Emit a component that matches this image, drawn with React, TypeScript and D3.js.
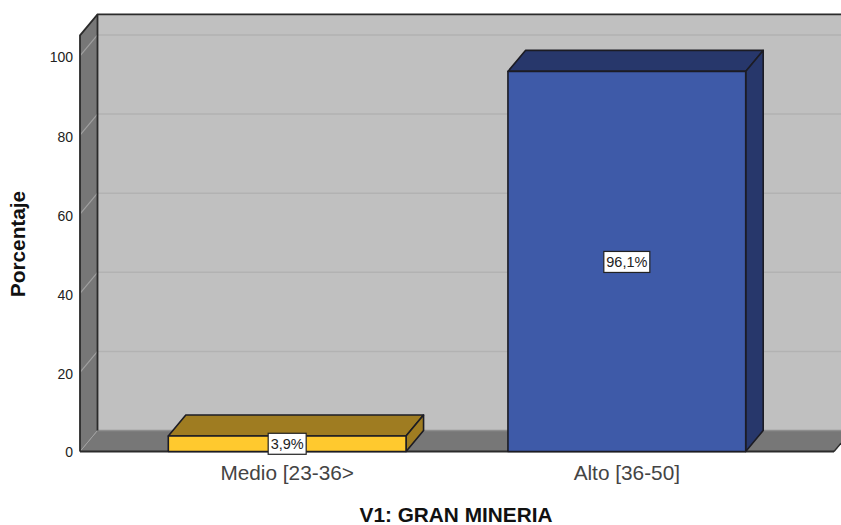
import React from "react";
import * as d3 from "d3";

const categories = ["Medio [23-36>", "Alto [36-50]"];
const values = [3.9, 96.1];
const valueLabels = ["3,9%", "96,1%"];
const frontColors = ["#ffc92e", "#3e5aa8"];
const topColors = ["#9f7c21", "#27376b"];
const sideColors = ["#9f7c21", "#27376b"];
const yTicks = [0, 20, 40, 60, 80, 100];
const yTitle = "Porcentaje";
const xTitle = "V1: GRAN MINERIA";

const W = 841, H = 525;
const DX = 17.5, DY = -21;
const y = d3.scaleLinear().domain([0, 105.2]).range([451.5, 35.4]);
const x = d3.scaleBand<string>().domain(categories).range([80, 834]).paddingInner(0.3).paddingOuter(0.26);
const font = "'Liberation Sans', Arial, sans-serif";
const EDGE = "#1c1c24";

const pts = (a: number[][]) => a.map(p => p.join(",")).join(" ");

export default function App() {
  const top = y.domain()[1];
  const yT = y(top), y0 = y(0);
  const xL = 80, xR = 834;
  return (
    <svg width={W} height={H} viewBox={`0 0 ${W} ${H}`} style={{ position: "absolute", left: 0, top: 0, background: "#fff" }}>
      <rect x={xL + DX} y={yT + DY} width={xR - xL + 40} height={y0 - yT} fill="#c0c0c0" />
      <polygon points={pts([[xL, y0], [xL + DX, y0 + DY], [xR + DX, y0 + DY], [xR, y0]])} fill="#777777" />
      <line x1={xL + DX} x2={W} y1={y0 + DY} y2={y0 + DY} stroke="#8e8e8e" strokeWidth={1.5} />
      <polygon points={pts([[xL, y0], [xL + DX, y0 + DY], [xL + DX, yT + DY], [xL, yT]])} fill="#777777" />
      {yTicks.filter(t => t > 0).map(t => (
        <g key={t}>
          <line x1={xL + DX} x2={W} y1={y(t) + DY} y2={y(t) + DY} stroke="#b2b2b2" strokeWidth={1.5} />
          <line x1={xL} x2={xL + DX} y1={y(t)} y2={y(t) + DY} stroke="#a0a0a0" strokeWidth={1.2} />
        </g>
      ))}
      <line x1={xL} x2={xL + DX} y1={y0} y2={y0 + DY} stroke="#a0a0a0" strokeWidth={1} />
      <polyline points={pts([[xL, y0], [xL, yT], [xL + DX, yT + DY], [W, yT + DY]])} fill="none" stroke="#2b2b2b" strokeWidth={1.8} />
      <line x1={xL + DX} x2={xL + DX} y1={yT + DY} y2={y0 + DY} stroke="#2b2b2b" strokeWidth={1.8} />
      <line x1={xL} x2={xR} y1={y0} y2={y0} stroke="#2b2b2b" strokeWidth={1.8} />
      <line x1={xR} x2={xR + 7} y1={y0} y2={y0 - 8.4} stroke="#2b2b2b" strokeWidth={1.4} />
      {categories.map((c, i) => {
        const bx = x(c)!, bw = x.bandwidth(), by = y(values[i]);
        return (
          <g key={c} stroke={EDGE} strokeWidth={1.6} strokeLinejoin="round">
            <polygon points={pts([[bx, by], [bx + DX, by + DY], [bx + bw + DX, by + DY], [bx + bw, by]])} fill={topColors[i]} />
            <polygon points={pts([[bx + bw, by], [bx + bw + DX, by + DY], [bx + bw + DX, y0 + DY], [bx + bw, y0]])} fill={sideColors[i]} />
            <rect x={bx} y={by} width={bw} height={y0 - by} fill={frontColors[i]} />
          </g>
        );
      })}
      {categories.map((c, i) => {
        const cx = x(c)! + x.bandwidth() / 2;
        const cy = y(values[i] / 2) + (i === 0 ? 0 : 0.5);
        const w = i === 0 ? 38 : 46;
        return (
          <g key={c}>
            <rect x={cx - w / 2} y={cy - 10.5} width={w} height={21} fill="#fff" stroke="#222" strokeWidth={1.2} />
            <text x={cx} y={cy + 5} textAnchor="middle" fontFamily={font} fontSize={14.5} fill="#222">{valueLabels[i]}</text>
          </g>
        );
      })}
      {yTicks.map(t => (
        <text key={t} x={73} y={y(t) + 5.5 + (t > 0 ? 1 : 0)} textAnchor="end" fontFamily={font} fontSize={14} fill="#222">{t}</text>
      ))}
      {categories.map(c => (
        <text key={c} x={x(c)! + x.bandwidth() / 2} y={480} textAnchor="middle" fontFamily={font} fontSize={20.8} fill="#444">{c}</text>
      ))}
      <text x={456} y={522} textAnchor="middle" fontFamily={font} fontSize={20.8} fontWeight="bold" fill="#111">{xTitle}</text>
      <text transform="translate(25,244) rotate(-90)" textAnchor="middle" fontFamily={font} fontSize={20.8} fontWeight="bold" fill="#111">{yTitle}</text>
    </svg>
  );
}
